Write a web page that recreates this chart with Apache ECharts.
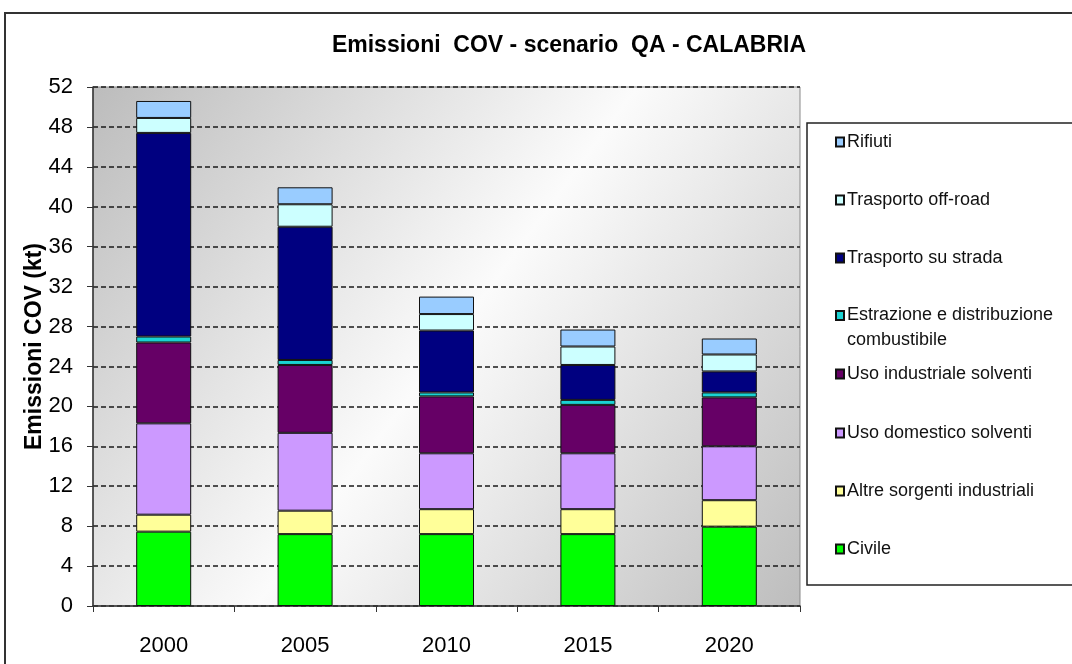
<!DOCTYPE html>
<html>
<head>
<meta charset="utf-8">
<script src="https://cdn.jsdelivr.net/npm/echarts@6/dist/echarts.min.js"></script>
<style>
  html, body { margin: 0; padding: 0; background: #fff; }
  #chart { width: 1072px; height: 664px; }
</style>
</head>
<body>
<div id="chart"></div>
<script>
// Emissioni COV (kt) per settore, scenario QA, Calabria
const years = ['2000', '2005', '2010', '2015', '2020'];

const civile      = [7.45, 7.2, 7.2, 7.2, 7.95];
const altre       = [1.7, 2.35, 2.5, 2.5, 2.65];
const domestico   = [9.15, 7.8, 5.6, 5.6, 5.4];
const industriale = [8.1, 6.8, 5.7, 4.85, 4.9];
const estrazione  = [0.6, 0.5, 0.4, 0.5, 0.5];
const strada      = [20.4, 13.35, 6.2, 3.5, 2.1];
const offroad     = [1.5, 2.25, 1.65, 1.85, 1.7];
const rifiuti     = [1.7, 1.7, 1.75, 1.7, 1.6];

const yTicks = [0, 4, 8, 12, 16, 20, 24, 28, 32, 36, 40, 44, 48, 52];

// stacking order, bottom to top
const sectors = [
  { name: 'Civile', data: civile, color: '#00ff00' },
  { name: 'Altre sorgenti industriali', data: altre, color: '#ffff99' },
  { name: 'Uso domestico solventi', data: domestico, color: '#cc99ff' },
  { name: 'Uso industriale solventi', data: industriale, color: '#660066' },
  { name: 'Estrazione e distribuzione combustibile', data: estrazione, color: '#1ad3d3' },
  { name: 'Trasporto su strada', data: strada, color: '#000080' },
  { name: 'Trasporto off-road', data: offroad, color: '#ccffff' },
  { name: 'Rifiuti', data: rifiuti, color: '#99ccff' }
];

const FONT = '"Liberation Sans", Arial, sans-serif';

const chart = echarts.init(document.getElementById('chart'));

// one legend block per entry, listed top to bottom in reverse stacking order;
// the two-line entry keeps its first line level with its marker
const legendCenter0 = 141;
const legendStep = 58.1;
const legends = sectors.slice().reverse().map((s, i) => {
  const wrap = s.name.startsWith('Estrazione');
  const lh = wrap ? 25 : 16;
  const blockH = wrap ? lh * 3 : lh;
  return {
    orient: 'vertical',
    left: 835,
    top: Math.round(legendCenter0 + i * legendStep - blockH / 2),
    padding: 0,
    data: [s.name],
    icon: 'rect',
    itemWidth: 8,
    itemHeight: 9,
    itemGap: 0,
    selectedMode: false,
    formatter: wrap ? '\nEstrazione e distribuzione\ncombustibile' : '{name}',
    textStyle: { fontFamily: FONT, fontSize: 18, color: '#111', lineHeight: lh, padding: [0, 0, 0, -2] }
  };
});

chart.setOption({
  animation: false,
  backgroundColor: '#ffffff',
  title: {
    text: 'Emissioni  COV - scenario  QA - CALABRIA',
    left: 564,
    top: 29,
    textAlign: 'center',
    textStyle: { fontFamily: FONT, fontWeight: 'bold', fontSize: 23, color: '#000' }
  },
  graphic: [
    {
      type: 'rect',
      shape: { x: 5, y: 13, width: 1100, height: 700 },
      style: { fill: 'none', stroke: '#333', lineWidth: 2 },
      z: -10
    },
    {
      type: 'rect',
      shape: { x: 807, y: 123, width: 280, height: 462 },
      style: { fill: '#fff', stroke: '#222', lineWidth: 1.5 },
      z: -5
    }
  ],
  legend: legends,
  grid: {
    left: 93,
    top: 87,
    right: 272,
    bottom: 58,
    show: true,
    borderColor: '#8a8a8a',
    borderWidth: 1,
    backgroundColor: new echarts.graphic.LinearGradient(0, 0, 1, 1, [
      { offset: 0, color: '#bcbcbc' },
      { offset: 0.5, color: '#fbfbfb' },
      { offset: 1, color: '#bdbdbd' }
    ])
  },
  xAxis: {
    type: 'category',
    data: years,
    axisLine: { lineStyle: { color: '#333', width: 1.5 } },
    axisTick: { show: true, length: 6, alignWithLabel: false, lineStyle: { color: '#333' } },
    axisLabel: { fontFamily: FONT, fontSize: 22, color: '#000', margin: 29 }
  },
  yAxis: {
    type: 'value',
    min: yTicks[0],
    max: yTicks[yTicks.length - 1],
    interval: yTicks[1] - yTicks[0],
    name: 'Emissioni COV (kt)',
    nameLocation: 'middle',
    nameGap: 47,
    nameMoveOverlap: false,
    nameTextStyle: { fontFamily: FONT, fontWeight: 'bold', fontSize: 23, color: '#000' },
    axisLine: { show: true, lineStyle: { color: '#333', width: 1.5 } },
    axisTick: { show: true, length: 6, lineStyle: { color: '#333' } },
    axisLabel: { fontFamily: FONT, fontSize: 22, color: '#000', margin: 20 },
    splitLine: {
      show: true,
      lineStyle: { color: '#1a1a1a', width: 1.6, type: [5, 3] }
    }
  },
  series: sectors.map(s => ({
    name: s.name,
    type: 'bar',
    stack: 'cov',
    barWidth: 55,
    data: s.data,
    itemStyle: { color: s.color, borderColor: '#111', borderWidth: 1 }
  }))
});
</script>
</body>
</html>
